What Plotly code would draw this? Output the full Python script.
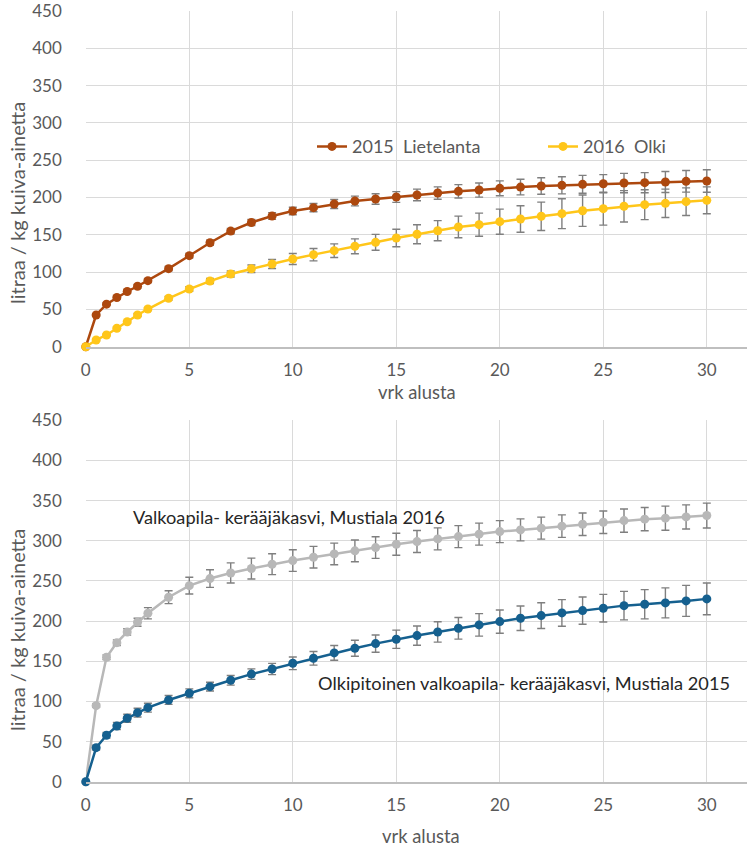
import plotly.graph_objects as go

days = [0, 0.5, 1, 1.5, 2, 2.5, 3, 4, 5, 6, 7, 8, 9, 10, 11, 12, 13, 14, 15, 16, 17, 18, 19, 20,
        21, 22, 23, 24, 25, 26, 27, 28, 29, 30]

# Top chart
lietelanta_2015 = [0, 42.5, 57, 66, 74, 81, 88.5, 104.6, 122, 139.4, 155, 166.5, 175.2, 181.9, 186.4,
                   191.3, 195.3, 198, 200.7, 203.4, 206, 208.3, 210, 212.3, 214, 215.4, 216.3, 217.6,
                   218.5, 219.4, 219.9, 220.8, 221.7, 222.1]
lietelanta_err = [0, 1, 1.5, 2, 2, 2.5, 2.5, 3, 3, 3.5, 3.5, 4, 4.5, 5, 5.5, 6, 6.5, 7, 7.2, 7.8, 8.3,
                  9, 9.5, 10, 10.5, 11, 11.5, 12, 12.2, 13, 13.5, 14, 14.5, 15]
olki_2016 = [0, 9, 15.7, 24.7, 33.5, 42.5, 50.5, 64.9, 77.3, 88, 97.5, 104.5, 110.9, 117.6, 123.4,
             128.7, 134.6, 139.9, 145.7, 150.7, 155.5, 160.5, 163.6, 167.6, 171.2, 174.8, 178.3,
             182.3, 185, 188.2, 190.4, 192.2, 194.4, 196.2]
olki_err = [0, 1, 1, 1.5, 1.5, 2, 2, 2.5, 3, 3.5, 4, 5, 6, 7.4, 8.3, 9.2, 10, 10.7, 11.7, 12.7, 13.5,
            14.5, 15.5, 16.8, 17.8, 19, 20, 21, 22, 21, 20, 19, 18.5, 18]

# Bottom chart
valkoapila_2016 = [0, 94.7, 155, 173.2, 186.5, 198.6, 209.8, 229.8, 244.2, 253, 260, 265.5, 270.9,
                   275.4, 279.6, 283.7, 287.5, 291.6, 295.8, 299.1, 302.4, 305.3, 308.3, 311.5, 313.6,
                   315.8, 318.3, 320.7, 323.2, 325.2, 327, 328.2, 329.8, 331.5]
valkoapila_err = [0, 2, 3, 3.5, 4, 5, 7, 8, 10.5, 11, 12.5, 13, 13, 13.5, 13.5, 13.5, 13.5, 13.5, 13.7,
                  13.7, 13.7, 13.7, 13.7, 13.7, 13.7, 13.7, 14, 14, 14, 14.5, 14.5, 15, 15, 15.5]
olkipitoinen_2015 = [0, 42.4, 57.8, 69.4, 79, 86, 92.2, 101.8, 110.1, 118.4, 126.3, 134, 140.4, 147.5,
                     153.7, 160.4, 166.2, 172, 177.4, 182, 186.5, 191.1, 195.3, 199.4, 203.6, 206.9,
                     210.2, 213.1, 216.1, 219.3, 221, 222.7, 225.2, 227.7]
olkipitoinen_err = [0, 3, 3.5, 4.5, 5, 5.5, 5.5, 5.5, 5.5, 5.5, 6, 6.5, 7, 7.9, 8.5, 9.2, 10, 10.7, 11.4,
                    12, 12.7, 13.5, 14, 14.5, 15.2, 16, 16.6, 17, 17.2, 17.8, 18.2, 18.7, 19.3, 19.7]

y_ticks = [0, 50, 100, 150, 200, 250, 300, 350, 400, 450]
x_ticks = [0, 5, 10, 15, 20, 25, 30]

W, H = 747, 847
FONT = "Lato"
GRAY_TXT = "#595959"
ERR_COL = "#7f7f7f"

fig = go.Figure()


def add_series(y, err, color, name, xa, ya, legend, msize=9):
    fig.add_trace(go.Scatter(
        x=days, y=y, name=name, mode="lines+markers",
        line=dict(color=color, width=2.5),
        marker=dict(color=color, size=msize),
        error_y=dict(type="data", array=err, visible=True, color=ERR_COL, thickness=1.4, width=4),
        xaxis=xa, yaxis=ya, showlegend=legend, cliponaxis=False,
    ))


add_series(lietelanta_2015, lietelanta_err, "#AD480E", "2015  Lietelanta", "x", "y", True)
add_series(olki_2016, olki_err, "#FFC61A", "2016  Olki", "x", "y", True)
add_series(valkoapila_2016, valkoapila_err, "#B8B8B8", "Valkoapila", "x2", "y2", False)
add_series(olkipitoinen_2015, olkipitoinen_err, "#15608F", "Olkipitoinen", "x2", "y2", False)

xmax = (747 - 85.8) / 20.7
xdom = [85.8 / W, 1.0]
top_dom = [1 - 346.7 / H, 1 - 11 / H]
bot_dom = [1 - 781.7 / H, 1 - 420.4 / H]

axis_common = dict(showgrid=True, gridcolor="#dadada", gridwidth=1.3, zeroline=False, automargin=False,
                   ticklabeloverflow="allow",
                   tickfont=dict(family=FONT, size=17, color=GRAY_TXT))

xa = dict(axis_common, range=[0, xmax], tickvals=x_ticks, showline=True, linecolor="#bfbfbf",
          linewidth=1.5, ticklabelstandoff=7, domain=xdom)
ya = dict(axis_common, range=[0, 450], tickvals=y_ticks, showline=False, ticklabelstandoff=23)

fig.update_layout(
    width=W, height=H,
    margin=dict(l=0, r=0, t=0, b=0, pad=0, autoexpand=False),
    paper_bgcolor="white", plot_bgcolor="white",
    xaxis=dict(xa, anchor="y"),
    yaxis=dict(ya, domain=top_dom, anchor="x"),
    xaxis2=dict(xa, anchor="y2"),
    yaxis2=dict(ya, domain=bot_dom, anchor="x2"),
    legend=dict(orientation="h", x=312 / W, xanchor="left", y=1 - 146.7 / H, yanchor="middle",
                font=dict(family=FONT, size=18, color=GRAY_TXT), bgcolor="rgba(0,0,0,0)",
                entrywidth=186, entrywidthmode="pixels", itemwidth=30),
    showlegend=True,
)


def ann(text, px, py, size=18, color=GRAY_TXT, angle=0):
    fig.add_annotation(text=text, x=px / W, y=1 - py / H, xref="paper", yref="paper",
                       showarrow=False, textangle=angle, xanchor="center", yanchor="middle",
                       font=dict(family=FONT, size=size, color=color))


ann("litraa / kg kuiva-ainetta", 17, 203, size=20, angle=-90)
ann("litraa / kg kuiva-ainetta", 17, 630, size=20, angle=-90)
ann("vrk alusta", 417, 392, size=18.4)
ann("vrk alusta", 421, 836, size=18.4)
ann("Valkoapila- kerääjäkasvi, Mustiala 2016", 289, 516.7, size=18.2, color="#262626")
ann("Olkipitoinen valkoapila- kerääjäkasvi, Mustiala 2015", 524, 683.3, size=18.2, color="#262626")

fig.write_html("out.html", config={"displayModeBar": False},
               post_script="document.body.style.margin='0px';document.body.style.overflow='hidden';")
